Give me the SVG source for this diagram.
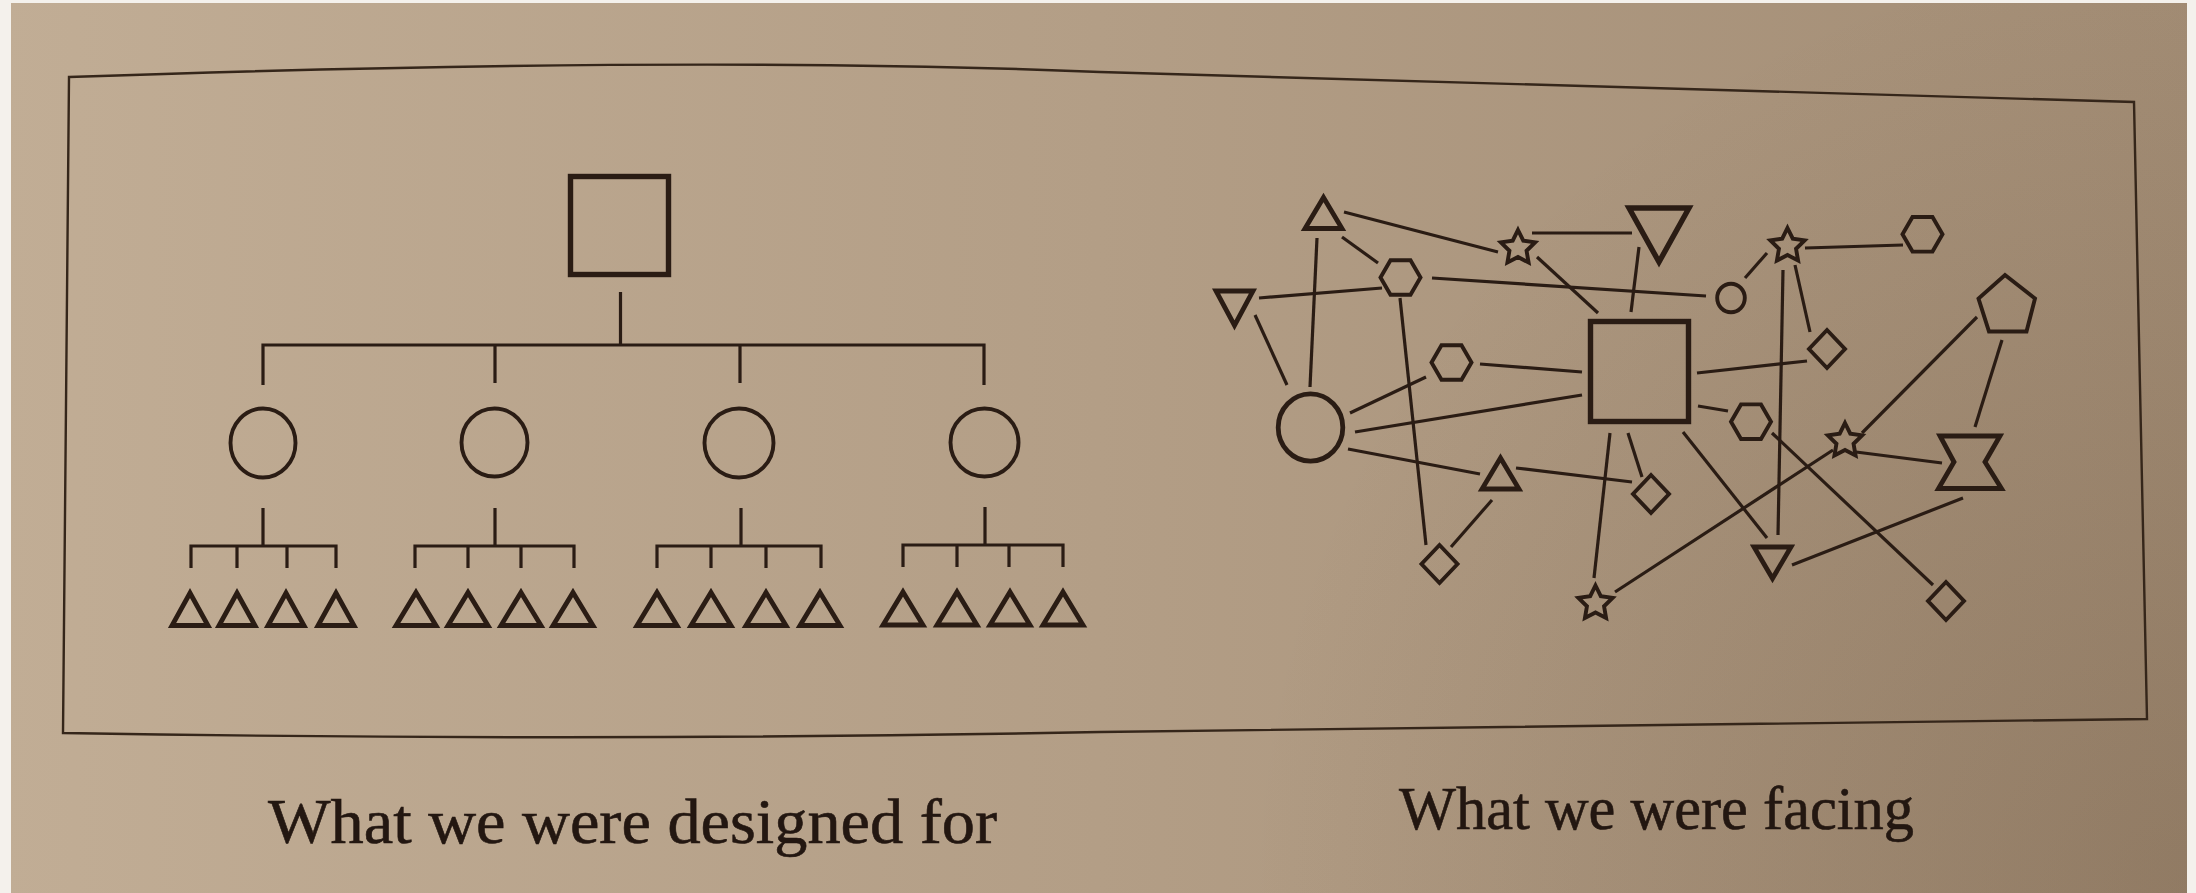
<svg xmlns="http://www.w3.org/2000/svg" width="2196" height="893" viewBox="0 0 2196 893">
  <defs>
    <style>
      .ink { fill: none; stroke: #2a1c14; stroke-linejoin: miter; }
      .ln { fill: none; stroke: #2a1c14; stroke-width: 3.2; stroke-linecap: butt; }
      .w3 { stroke-width: 3.9; }
      .w4 { stroke-width: 4.8; }
      .w5 { stroke-width: 5.4; }
      .cap { font-family: "Liberation Serif", "DejaVu Serif", serif; fill: #231711; stroke: #231711; stroke-width: 0.6; }
    </style>
    <linearGradient id="paper" x1="0" y1="0" x2="2196" y2="0" gradientUnits="userSpaceOnUse">
      <stop offset="0" stop-color="#c1ad95"/>
      <stop offset="0.5" stop-color="#b39e86"/>
      <stop offset="1" stop-color="#a28c74"/>
    </linearGradient>
    <radialGradient id="shade" cx="2196" cy="893" r="950" gradientUnits="userSpaceOnUse">
      <stop offset="0" stop-color="#4a3420" stop-opacity="0.2"/>
      <stop offset="1" stop-color="#4a3420" stop-opacity="0"/>
    </radialGradient>
    <!-- reusable shapes, centred on the origin -->
    <path id="star" d="M0,-18 L5.29,-7.28 L17.12,-5.56 L8.56,2.78 L10.58,14.56 L0,9 L-10.58,14.56 L-8.56,2.78 L-17.12,-5.56 L-5.29,-7.28 Z"/>
    <path id="hex" d="M-20,0 L-10,-17.3 L10,-17.3 L20,0 L10,17.3 L-10,17.3 Z"/>
    <path id="diamond" d="M0,-19 L18,0 L0,19 L-18,0 Z"/>
    <!-- leaf triangles, origin at the apex -->
    <path id="tri-n" d="M0,0 L18,32.5 L-18,32.5 Z"/>
    <path id="tri-w" d="M0,0 L20,33 L-20,33 Z"/>
  </defs>

  <!-- page -->
  <rect x="0" y="0" width="2196" height="893" fill="#f4f1ec"/>
  <rect x="11" y="3" width="2176" height="890" fill="url(#paper)"/>
  <rect x="11" y="3" width="2176" height="890" fill="url(#shade)"/>

  <!-- panel border -->
  <path id="frame" d="M69,77 Q700,55 1100,72 L2134,102 L2147,719 L1100,732 Q600,742 63,733 Z" fill="none" stroke="#35261a" stroke-width="2.4"/>

  <!-- ===== Hierarchy ===== -->
  <g id="tree-links" class="ln">
    <path d="M620.5,292 V345 M263,385 V345 H984 V385 M495,345 V383 M740,345 V383"/>
    <path d="M263,508 V546 M191,568 V546 H336 V568 M237,546 V568 M287,546 V568"/>
    <path d="M495,508 V546 M415,568 V546 H574 V568 M468,546 V568 M521,546 V568"/>
    <path d="M741,508 V546 M657,568 V546 H821 V568 M711,546 V568 M766,546 V568"/>
    <path d="M985,507 V545 M903,567 V545 H1063 V567 M957,545 V567 M1009,545 V567"/>
  </g>

  <g id="top-square"><rect class="ink w5" x="570.5" y="176.5" width="98" height="98"/></g>

  <g id="mid-1"><ellipse class="ink w3" cx="263" cy="443" rx="32.5" ry="34.5"/></g>
  <g id="mid-2"><ellipse class="ink w3" cx="494.5" cy="442.5" rx="33" ry="34"/></g>
  <g id="mid-3"><ellipse class="ink w3" cx="739" cy="443" rx="34.5" ry="34.5"/></g>
  <g id="mid-4"><ellipse class="ink w3" cx="984.5" cy="442.5" rx="34" ry="34"/></g>

  <g id="leaves-1" class="ink w4">
    <use href="#tri-n" x="190" y="593"/>
    <use href="#tri-n" x="237" y="593"/>
    <use href="#tri-n" x="286" y="593"/>
    <use href="#tri-n" x="336" y="593"/>
  </g>
  <g id="leaves-2" class="ink w4">
    <use href="#tri-w" x="416" y="592.5"/>
    <use href="#tri-w" x="468" y="592.5"/>
    <use href="#tri-w" x="521" y="592.5"/>
    <use href="#tri-w" x="573" y="592.5"/>
  </g>
  <g id="leaves-3" class="ink w4">
    <use href="#tri-w" x="657" y="592.5"/>
    <use href="#tri-w" x="711" y="592.5"/>
    <use href="#tri-w" x="766" y="592.5"/>
    <use href="#tri-w" x="820" y="592.5"/>
  </g>
  <g id="leaves-4" class="ink w4">
    <use href="#tri-w" x="903" y="592"/>
    <use href="#tri-w" x="957" y="592"/>
    <use href="#tri-w" x="1010" y="592"/>
    <use href="#tri-w" x="1063" y="592"/>
  </g>

  <!-- ===== Network ===== -->
  <g id="connectors" class="ln">
    <line x1="1344" y1="212" x2="1498" y2="252"/>
    <line x1="1342" y1="237" x2="1378" y2="263"/>
    <line x1="1317" y1="238" x2="1310" y2="387"/>
    <line x1="1259" y1="298" x2="1382" y2="288"/>
    <line x1="1255" y1="315" x2="1287" y2="385"/>
    <line x1="1432" y1="278" x2="1706" y2="296"/>
    <line x1="1400" y1="298" x2="1426" y2="545"/>
    <line x1="1532" y1="233" x2="1632" y2="233"/>
    <line x1="1537" y1="257" x2="1598" y2="313"/>
    <line x1="1639" y1="247" x2="1631" y2="312"/>
    <line x1="1480" y1="364" x2="1582" y2="372"/>
    <line x1="1350" y1="413" x2="1426" y2="377"/>
    <line x1="1355" y1="432" x2="1582" y2="395"/>
    <line x1="1348" y1="449" x2="1480" y2="474"/>
    <line x1="1516" y1="468" x2="1632" y2="482"/>
    <line x1="1492" y1="500" x2="1451" y2="547"/>
    <line x1="1628" y1="433" x2="1642" y2="477"/>
    <line x1="1610" y1="433" x2="1594" y2="578"/>
    <line x1="1615" y1="592" x2="1833" y2="450"/>
    <line x1="1683" y1="432" x2="1767" y2="538"/>
    <line x1="1697" y1="373" x2="1807" y2="361"/>
    <line x1="1698" y1="406" x2="1728" y2="411"/>
    <line x1="1745" y1="278" x2="1767" y2="253"/>
    <line x1="1805" y1="248" x2="1903" y2="245"/>
    <line x1="1783" y1="270" x2="1778" y2="535"/>
    <line x1="1795" y1="265" x2="1810" y2="332"/>
    <line x1="1772" y1="433" x2="1933" y2="585"/>
    <line x1="1977" y1="317" x2="1862" y2="433"/>
    <line x1="2002" y1="340" x2="1975" y2="427"/>
    <line x1="1856" y1="452" x2="1942" y2="463"/>
    <line x1="1963" y1="498" x2="1792" y2="565"/>
  </g>

  <g id="hub-square"><rect class="ink w5" x="1590.5" y="321.5" width="98" height="100"/></g>
  <g id="big-circle"><ellipse class="ink w4" cx="1310.5" cy="427.5" rx="32.3" ry="33.6"/></g>
  <g id="small-circle"><ellipse class="ink w3" cx="1731" cy="298" rx="13.8" ry="14.3"/></g>

  <g id="tri-top-left"><path class="ink w4" d="M1323.5,197.5 L1342,228.5 L1305,228.5 Z"/></g>
  <g id="tri-down-left"><path class="ink w4" d="M1216,291 L1253,291 L1234.5,325.5 Z"/></g>
  <g id="tri-down-big"><path class="ink w5" d="M1629,208 L1689,208 L1659,262 Z"/></g>
  <g id="tri-mid"><path class="ink w4" d="M1500.5,458 L1519,489 L1482,489 Z"/></g>
  <g id="tri-down-low"><path class="ink w4" d="M1754,547 L1791,547 L1772.5,578.5 Z"/></g>

  <g id="hex-1"><use class="ink w3" href="#hex" x="1400.5" y="277.5"/></g>
  <g id="hex-2"><use class="ink w3" href="#hex" x="1451.5" y="362.5"/></g>
  <g id="hex-3"><use class="ink w3" href="#hex" x="1751" y="421.7"/></g>
  <g id="hex-4"><use class="ink w3" href="#hex" x="1922.5" y="234.3"/></g>

  <g id="star-1"><use class="ink w3" href="#star" x="1518" y="248"/></g>
  <g id="star-2"><use class="ink w3" href="#star" x="1595.5" y="603.5"/></g>
  <g id="star-3"><use class="ink w3" href="#star" x="1787.5" y="246"/></g>
  <g id="star-4"><use class="ink w3" href="#star" x="1845" y="441"/></g>

  <g id="diamond-1"><use class="ink w3" href="#diamond" x="1651" y="494"/></g>
  <g id="diamond-2"><use class="ink w3" href="#diamond" x="1439.5" y="564"/></g>
  <g id="diamond-3"><use class="ink w3" href="#diamond" x="1827" y="349"/></g>
  <g id="diamond-4"><use class="ink w3" href="#diamond" x="1946" y="601"/></g>

  <g id="pentagon"><path class="ink w3" d="M2005,275 L2035,298.5 L2026.5,331.5 L1989,331.5 L1978.5,298.5 Z"/></g>
  <g id="hourglass"><path class="ink w4" d="M1940,436 L2000,436 L1985,462 L2001.5,488.5 L1938.5,488.5 L1954,462 Z"/></g>

  <!-- captions -->
  <text class="cap" x="268" y="843" font-size="64" textLength="729" lengthAdjust="spacingAndGlyphs">What we were designed for</text>
  <text class="cap" x="1399" y="829" font-size="61" textLength="515" lengthAdjust="spacingAndGlyphs">What we were facing</text>
</svg>
